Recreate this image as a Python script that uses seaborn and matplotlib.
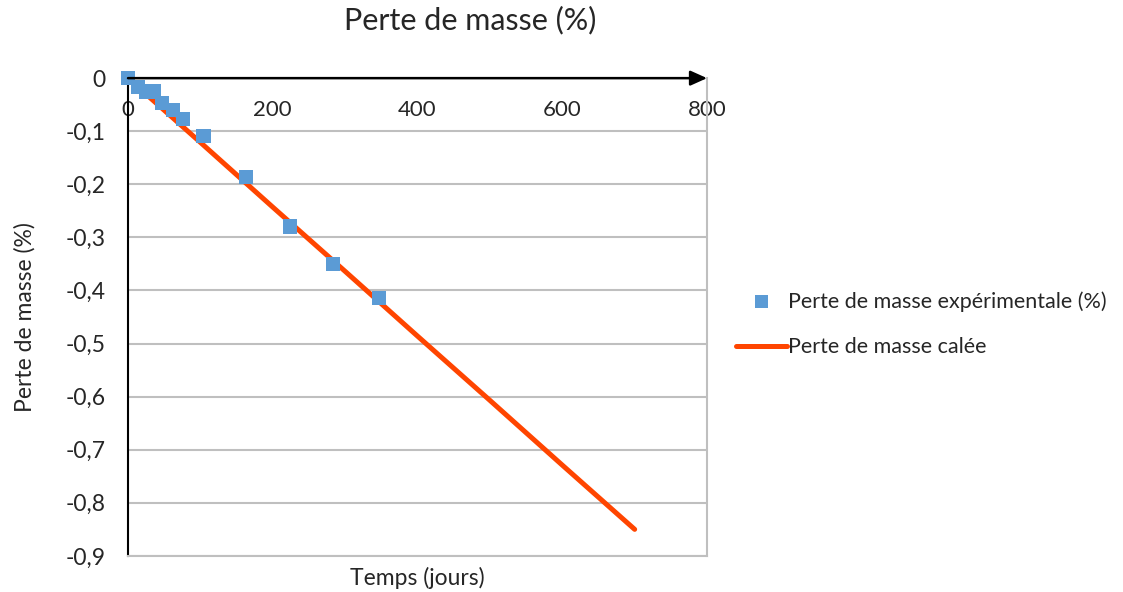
import pandas as pd
import seaborn as sns
import matplotlib.pyplot as plt

# experimental points
temps_exp = [0, 14, 25, 35, 47, 62, 76, 104, 163, 224, 283, 347]
perte_exp = [0, -0.017, -0.025, -0.025, -0.047, -0.060, -0.077, -0.109, -0.186, -0.279, -0.350, -0.414]

# fitted curve
temps_cal = [0, 100, 200, 300, 400, 500, 600, 700]
perte_cal = [0, -0.121, -0.243, -0.364, -0.486, -0.607, -0.729, -0.85]

y_ticks = [0, -0.1, -0.2, -0.3, -0.4, -0.5, -0.6, -0.7, -0.8, -0.9]
x_ticks = [0, 200, 400, 600, 800]

exp = pd.DataFrame({'temps': temps_exp, 'perte': perte_exp})
cal = pd.DataFrame({'temps': temps_cal, 'perte': perte_cal})

sns.set_style('white')
plt.rcParams['font.family'] = ['Lato', 'DejaVu Sans']

fig = plt.figure(figsize=(11.23, 5.92), dpi=100)
ax = fig.add_axes([0.114, 0.061, 0.5156, 0.807])

sns.lineplot(data=cal, x='temps', y='perte', color='#FF4500', linewidth=3.6,
             solid_capstyle='round', label='Perte de masse calée', ax=ax, zorder=3)
sns.scatterplot(data=exp, x='temps', y='perte', color='#5B9BD5', marker='s', s=110,
                edgecolor='none', label='Perte de masse expérimentale (%)', ax=ax, zorder=4,
                clip_on=False)

ax.set_xlim(0, 800)
ax.set_ylim(-0.9, 0)
ax.set_yticks(y_ticks)
ax.set_yticklabels([('%g' % v).replace('.', ',') for v in y_ticks], fontsize=16.5)
ax.set_xticks(x_ticks)
ax.set_xticklabels([str(v) for v in x_ticks], fontsize=16)
ax.tick_params(axis='x', top=True, labeltop=True, bottom=False, labelbottom=False,
               length=0, pad=-30)
ax.tick_params(axis='y', length=0, pad=16)
ax.yaxis.grid(True, color='#bfbfbf', linewidth=1.5)
ax.set_axisbelow(True)

for s in ['right', 'bottom']:
    ax.spines[s].set_color('#bfbfbf')
    ax.spines[s].set_linewidth(1.5)
ax.spines['left'].set_color('black')
ax.spines['left'].set_linewidth(1.5)
ax.spines['top'].set_visible(False)

ax.annotate('', xy=(1.0, 1.0), xytext=(0, 1.0), xycoords='axes fraction',
            arrowprops=dict(arrowstyle='-|>,head_length=1.0,head_width=0.45',
                            color='black', lw=1.8, shrinkA=0, shrinkB=0), zorder=5)

ax.set_xlabel('Temps (jours)', fontsize=16.5, labelpad=8)
ax.set_ylabel('Perte de masse (%)', fontsize=16.5, labelpad=22)
fig.suptitle('Perte de masse (%)', fontsize=22, x=0.419, y=0.99)

handles, labels = ax.get_legend_handles_labels()
ax.legend([handles[1], handles[0]], [labels[1], labels[0]], loc='center left',
          bbox_to_anchor=(0.6385, 0.4525), bbox_transform=fig.transFigure,
          frameon=False, fontsize=15.5, handlelength=2.35, handletextpad=0.05,
          labelspacing=1.2, markerscale=0.9)

fig.savefig('out.png', dpi=100)
